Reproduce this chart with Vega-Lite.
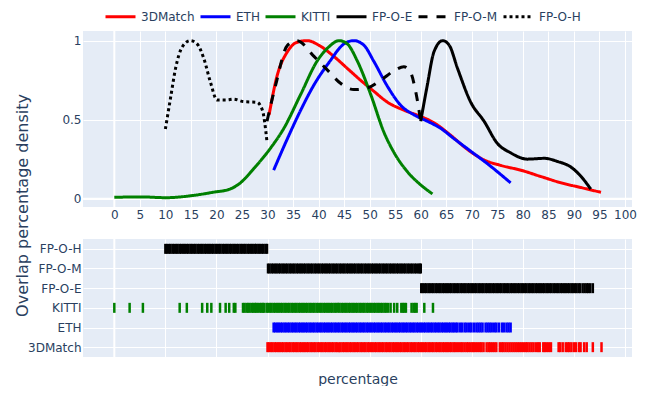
{
  "$schema": "https://vega.github.io/schema/vega-lite/v6.json",
  "padding": {"left": 14, "top": 0, "right": 0, "bottom": 0},
  "background": "white",
  "config": {
    "font": "DejaVu Sans",
    "view": {"stroke": null, "fill": "#E5ECF6"},
    "axis": {"gridColor": "white", "gridOpacity": 1, "gridWidth": 1, "domain": false, "ticks": false, "labelColor": "#2a3f5f", "labelFontSize": 12, "titleColor": "#2a3f5f", "titleFontSize": 14, "titleFontWeight": "normal", "labelFont": "DejaVu Sans", "titleFont": "DejaVu Sans"}
  },
  "bounds": "flush",
  "spacing": 32,
  "datasets": {
    "curves": [
      {"s": "3DMatch", "x": 30.3, "y": 0.53}, {"s": "3DMatch", "x": 31.9, "y": 0.78}, {"s": "3DMatch", "x": 33.9, "y": 0.93}, {"s": "3DMatch", "x": 35.8, "y": 0.99}, {"s": "3DMatch", "x": 37.8, "y": 1.0}, {"s": "3DMatch", "x": 40.1, "y": 0.97}, {"s": "3DMatch", "x": 43.0, "y": 0.9}, {"s": "3DMatch", "x": 45.6, "y": 0.825}, {"s": "3DMatch", "x": 48.2, "y": 0.75}, {"s": "3DMatch", "x": 50.8, "y": 0.68}, {"s": "3DMatch", "x": 53.5, "y": 0.61}, {"s": "3DMatch", "x": 56.7, "y": 0.56}, {"s": "3DMatch", "x": 60.0, "y": 0.52}, {"s": "3DMatch", "x": 62.6, "y": 0.48}, {"s": "3DMatch", "x": 65.9, "y": 0.4}, {"s": "3DMatch", "x": 69.2, "y": 0.31}, {"s": "3DMatch", "x": 72.4, "y": 0.245}, {"s": "3DMatch", "x": 75.7, "y": 0.21}, {"s": "3DMatch", "x": 79.6, "y": 0.18}, {"s": "3DMatch", "x": 83.5, "y": 0.14}, {"s": "3DMatch", "x": 87.5, "y": 0.1}, {"s": "3DMatch", "x": 91.4, "y": 0.07}, {"s": "3DMatch", "x": 95.3, "y": 0.04},
      {"s": "ETH", "x": 31.2, "y": 0.18}, {"s": "ETH", "x": 33.9, "y": 0.38}, {"s": "ETH", "x": 36.5, "y": 0.56}, {"s": "ETH", "x": 39.1, "y": 0.72}, {"s": "ETH", "x": 42.0, "y": 0.86}, {"s": "ETH", "x": 45.0, "y": 0.98}, {"s": "ETH", "x": 46.9, "y": 1.0}, {"s": "ETH", "x": 48.9, "y": 0.97}, {"s": "ETH", "x": 50.8, "y": 0.87}, {"s": "ETH", "x": 53.5, "y": 0.71}, {"s": "ETH", "x": 56.1, "y": 0.59}, {"s": "ETH", "x": 58.7, "y": 0.53}, {"s": "ETH", "x": 61.3, "y": 0.49}, {"s": "ETH", "x": 63.9, "y": 0.445}, {"s": "ETH", "x": 66.5, "y": 0.38}, {"s": "ETH", "x": 69.8, "y": 0.3}, {"s": "ETH", "x": 73.1, "y": 0.22}, {"s": "ETH", "x": 77.6, "y": 0.1},
      {"s": "KITTI", "x": 0, "y": 0.008}, {"s": "KITTI", "x": 5, "y": 0.011}, {"s": "KITTI", "x": 10.2, "y": 0.006}, {"s": "KITTI", "x": 15.4, "y": 0.02}, {"s": "KITTI", "x": 19.3, "y": 0.04}, {"s": "KITTI", "x": 22.6, "y": 0.06}, {"s": "KITTI", "x": 24.7, "y": 0.1}, {"s": "KITTI", "x": 27.3, "y": 0.19}, {"s": "KITTI", "x": 30.6, "y": 0.32}, {"s": "KITTI", "x": 33.2, "y": 0.445}, {"s": "KITTI", "x": 36.5, "y": 0.66}, {"s": "KITTI", "x": 39.7, "y": 0.87}, {"s": "KITTI", "x": 42.0, "y": 0.96}, {"s": "KITTI", "x": 44.0, "y": 1.0}, {"s": "KITTI", "x": 45.6, "y": 0.98}, {"s": "KITTI", "x": 47.6, "y": 0.87}, {"s": "KITTI", "x": 50.2, "y": 0.66}, {"s": "KITTI", "x": 52.8, "y": 0.42}, {"s": "KITTI", "x": 54.8, "y": 0.29}, {"s": "KITTI", "x": 57.4, "y": 0.17}, {"s": "KITTI", "x": 60.0, "y": 0.087}, {"s": "KITTI", "x": 62.3, "y": 0.03},
      {"s": "FP-O-E", "x": 60.0, "y": 0.49}, {"s": "FP-O-E", "x": 61.3, "y": 0.72}, {"s": "FP-O-E", "x": 62.6, "y": 0.93}, {"s": "FP-O-E", "x": 64.3, "y": 1.0}, {"s": "FP-O-E", "x": 65.6, "y": 0.97}, {"s": "FP-O-E", "x": 67.2, "y": 0.825}, {"s": "FP-O-E", "x": 69.8, "y": 0.61}, {"s": "FP-O-E", "x": 72.4, "y": 0.49}, {"s": "FP-O-E", "x": 75.0, "y": 0.35}, {"s": "FP-O-E", "x": 77.6, "y": 0.29}, {"s": "FP-O-E", "x": 80.9, "y": 0.25}, {"s": "FP-O-E", "x": 84.2, "y": 0.255}, {"s": "FP-O-E", "x": 86.8, "y": 0.235}, {"s": "FP-O-E", "x": 89.4, "y": 0.2}, {"s": "FP-O-E", "x": 91.4, "y": 0.14}, {"s": "FP-O-E", "x": 93.3, "y": 0.06},
      {"s": "FP-O-M", "x": 29.9, "y": 0.49}, {"s": "FP-O-M", "x": 31.6, "y": 0.72}, {"s": "FP-O-M", "x": 33.9, "y": 0.97}, {"s": "FP-O-M", "x": 35.8, "y": 1.0}, {"s": "FP-O-M", "x": 39.1, "y": 0.9}, {"s": "FP-O-M", "x": 41.7, "y": 0.815}, {"s": "FP-O-M", "x": 44.3, "y": 0.73}, {"s": "FP-O-M", "x": 46.9, "y": 0.69}, {"s": "FP-O-M", "x": 49.5, "y": 0.7}, {"s": "FP-O-M", "x": 52.2, "y": 0.75}, {"s": "FP-O-M", "x": 54.8, "y": 0.81}, {"s": "FP-O-M", "x": 56.7, "y": 0.835}, {"s": "FP-O-M", "x": 58.0, "y": 0.8}, {"s": "FP-O-M", "x": 59.0, "y": 0.68}, {"s": "FP-O-M", "x": 60.0, "y": 0.49},
      {"s": "FP-O-H", "x": 10.0, "y": 0.44}, {"s": "FP-O-H", "x": 11.0, "y": 0.635}, {"s": "FP-O-H", "x": 12.0, "y": 0.825}, {"s": "FP-O-H", "x": 13.3, "y": 0.96}, {"s": "FP-O-H", "x": 14.9, "y": 1.0}, {"s": "FP-O-H", "x": 16.2, "y": 0.98}, {"s": "FP-O-H", "x": 17.5, "y": 0.89}, {"s": "FP-O-H", "x": 18.8, "y": 0.74}, {"s": "FP-O-H", "x": 20.1, "y": 0.625}, {"s": "FP-O-H", "x": 22.0, "y": 0.625}, {"s": "FP-O-H", "x": 23.3, "y": 0.63}, {"s": "FP-O-H", "x": 25.3, "y": 0.614}, {"s": "FP-O-H", "x": 27.9, "y": 0.61}, {"s": "FP-O-H", "x": 29.0, "y": 0.56}, {"s": "FP-O-H", "x": 29.9, "y": 0.36}
    ],
    "rugH": [10, 10.3, 10.7, 11, 11.4, 11.7, 12.1, 12.4, 12.8, 13.1, 13.5, 13.8, 14.2, 14.5, 14.9, 15.2, 15.6, 15.9, 16.3, 16.6, 17, 17.3, 17.7, 18, 18.4, 18.7, 19.1, 19.4, 19.8, 20.1, 20.5, 20.8, 21.2, 21.5, 21.9, 22.2, 22.6, 22.9, 23.3, 23.6, 24, 24.3, 24.7, 25, 25.4, 25.7, 26.1, 26.4, 26.8, 27.1, 27.5, 27.8, 28.2, 28.5, 28.9, 29.2, 29.6, 29.9],
    "rugM": [30.1, 30.4, 30.8, 31.1, 31.5, 31.8, 32.2, 32.5, 32.9, 33.2, 33.6, 33.9, 34.3, 34.6, 35, 35.3, 35.7, 36, 36.4, 36.7, 37.1, 37.4, 37.8, 38.1, 38.5, 38.8, 39.2, 39.5, 39.9, 40.2, 40.6, 40.9, 41.3, 41.6, 42, 42.3, 42.7, 43, 43.4, 43.7, 44.1, 44.4, 44.8, 45.1, 45.5, 45.8, 46.2, 46.5, 46.9, 47.2, 47.6, 47.9, 48.3, 48.6, 49, 49.3, 49.7, 50, 50.4, 50.7, 51.1, 51.4, 51.8, 52.1, 52.5, 52.8, 53.2, 53.5, 53.9, 54.2, 54.6, 54.9, 55.3, 55.6, 56, 56.3, 56.7, 57, 57.4, 57.7, 58.1, 58.4, 58.8, 59.1, 59.5, 59.8, 60],
    "rugE": [60.1, 60.4, 60.8, 61.1, 61.5, 61.8, 62.2, 62.5, 62.9, 63.2, 63.6, 63.9, 64.3, 64.6, 65, 65.3, 65.7, 66, 66.4, 66.7, 67.1, 67.4, 67.8, 68.1, 68.5, 68.8, 69.2, 69.5, 69.9, 70.2, 70.6, 70.9, 71.3, 71.6, 72, 72.3, 72.7, 73, 73.4, 73.7, 74.1, 74.4, 74.8, 75.1, 75.5, 75.8, 76.2, 76.5, 76.9, 77.2, 77.6, 77.9, 78.3, 78.6, 79, 79.3, 79.7, 80, 80.4, 80.7, 81.1, 81.4, 81.8, 82.1, 82.5, 82.8, 83.2, 83.5, 83.9, 84.2, 84.6, 84.9, 85.3, 85.6, 86, 86.3, 86.7, 87, 87.4, 87.7, 88.1, 88.4, 88.8, 89.1, 89.5, 89.8, 90.2, 90.5, 90.9, 91.2, 91.7, 92.1, 92.5, 92.8, 93.2, 93.7],
    "rugK": [0, 3, 5.6, 12.8, 14.2, 17.2, 18.2, 19, 20.7, 21.8, 22.5, 23.4, 23.7, 25.2, 25.5, 25.9, 26.2, 26.5, 26.9, 27.2, 27.5, 27.8, 28.1, 28.5, 28.8, 29.1, 29.3, 29.8, 30.1, 30.5, 30.8, 31.2, 31.5, 31.9, 32.2, 32.6, 32.9, 33.3, 33.6, 34, 34.3, 34.7, 35, 35.4, 35.7, 36.1, 36.4, 36.8, 37.1, 37.5, 37.8, 38.2, 38.5, 38.9, 39.2, 39.6, 39.9, 40.3, 40.6, 41, 41.3, 41.7, 42, 42.4, 42.7, 43.1, 43.4, 43.8, 44.1, 44.5, 44.8, 45.2, 45.5, 45.9, 46.2, 46.6, 46.9, 47.3, 47.6, 48, 48.3, 48.7, 49, 49.4, 49.7, 50.1, 50.4, 50.8, 51.1, 51.5, 51.8, 52.2, 52.5, 52.9, 53.2, 53.6, 54.1, 54.8, 55.4, 56.2, 56.5, 56.8, 57.1, 58.2, 58.6, 58.9, 59.2, 60.7, 62.4],
    "rugEth": [31.2, 31.5, 31.9, 32.2, 32.6, 32.9, 33.3, 33.6, 34, 34.3, 34.7, 35, 35.4, 35.7, 36.1, 36.4, 36.8, 37.1, 37.5, 37.8, 38.2, 38.5, 38.9, 39.2, 39.6, 39.9, 40.3, 40.6, 41, 41.3, 41.7, 42, 42.4, 42.7, 43.1, 43.4, 43.8, 44.1, 44.5, 44.8, 45.2, 45.5, 45.9, 46.2, 46.6, 46.9, 47.3, 47.6, 48, 48.3, 48.7, 49, 49.4, 49.7, 50.1, 50.4, 50.8, 51.1, 51.5, 51.8, 52.2, 52.5, 52.9, 53.2, 53.6, 53.9, 54.3, 54.6, 55, 55.3, 55.7, 56, 56.4, 56.7, 57.1, 57.4, 57.8, 58.1, 58.5, 58.8, 59.2, 59.5, 59.9, 60.2, 60.6, 60.9, 61.3, 61.6, 62, 62.3, 62.7, 63, 63.4, 63.7, 64.1, 64.4, 64.8, 65.1, 65.5, 65.8, 66.2, 66.5, 66.9, 67.2, 67.7, 68.1, 68.6, 69, 69.5, 69.9, 70.4, 70.9, 71.3, 71.7, 72.1, 72.7, 73.1, 73.5, 73.9, 74.4, 74.8, 75.3, 75.9, 76.3, 76.8, 77.2, 77.6],
    "rug3D": [30, 30.3, 30.7, 31, 31.4, 31.7, 32.1, 32.4, 32.8, 33.1, 33.5, 33.8, 34.2, 34.5, 34.9, 35.2, 35.6, 35.9, 36.3, 36.6, 37, 37.3, 37.7, 38, 38.4, 38.7, 39.1, 39.4, 39.8, 40.1, 40.5, 40.8, 41.2, 41.5, 41.9, 42.2, 42.6, 42.9, 43.3, 43.6, 44, 44.3, 44.7, 45, 45.4, 45.7, 46.1, 46.4, 46.8, 47.1, 47.5, 47.8, 48.2, 48.5, 48.9, 49.2, 49.6, 49.9, 50.3, 50.6, 51, 51.3, 51.7, 52, 52.4, 52.7, 53.1, 53.4, 53.8, 54.1, 54.5, 54.8, 55.2, 55.5, 55.9, 56.2, 56.6, 56.9, 57.3, 57.6, 58, 58.3, 58.7, 59, 59.4, 59.7, 60.1, 60.4, 60.8, 61.1, 61.5, 61.8, 62.2, 62.5, 62.9, 63.2, 63.6, 63.9, 64.3, 64.6, 65, 65.3, 65.7, 66, 66.4, 66.7, 67.1, 67.5, 67.9, 68.2, 68.6, 69, 69.3, 69.7, 70.1, 70.4, 70.8, 71.2, 71.6, 71.9, 72.3, 72.9, 73.3, 73.6, 74, 74.4, 74.8, 75.5, 75.9, 76.2, 76.6, 77, 77.4, 77.8, 78.2, 78.6, 79, 79.4, 79.8, 80.2, 80.6, 80.9, 81.3, 81.7, 82.1, 82.6, 83, 83.3, 84, 84.3, 84.7, 85.1, 85.5, 87, 87.3, 87.8, 88.4, 88.8, 89.1, 89.5, 90, 90.4, 91, 91.3, 92, 92.5, 93.7, 95.4]
  },
  "vconcat": [
    {
      "width": 549,
      "height": 176,
      "layer": [
        {
          "data": {"values": [{}]},
          "mark": {"type": "rule", "color": "white", "strokeWidth": 2},
          "encoding": {"y": {"datum": 0, "type": "quantitative", "scale": {"domain": [-0.053, 1.061], "nice": false, "zero": false},
            "axis": {"values": [0, 0.5, 1], "format": "~g", "title": "Overlap percentage density", "labelPadding": 2, "grid": true, "titleX": -61, "titleY": 174, "titleAngle": -90, "titleAlign": "center", "titleBaseline": "middle", "titleFontSize": 16}}}
        },
        {
          "data": {"values": [{}]},
          "mark": {"type": "rule", "color": "white", "strokeWidth": 2},
          "encoding": {"x": {"datum": 0, "type": "quantitative", "scale": {"domain": [-6.13, 101.37], "nice": false, "zero": false},
            "axis": {"values": [0, 5, 10, 15, 20, 25, 30, 35, 40, 45, 50, 55, 60, 65, 70, 75, 80, 85, 90, 95, 100], "title": null, "labelPadding": 2, "grid": true, "labelOverlap": false, "labelFlush": false}}}
        },
        {
          "data": {"name": "curves"},
          "mark": {"type": "line", "strokeWidth": 3, "interpolate": "monotone"},
          "encoding": {
            "x": {"field": "x", "type": "quantitative", "scale": {"domain": [-6.13, 101.37], "nice": false, "zero": false},
              "axis": {"values": [0, 5, 10, 15, 20, 25, 30, 35, 40, 45, 50, 55, 60, 65, 70, 75, 80, 85, 90, 95, 100], "title": null, "labelPadding": 2, "grid": true, "labelOverlap": false, "labelFlush": false}},
            "y": {"field": "y", "type": "quantitative", "scale": {"domain": [-0.053, 1.061], "nice": false, "zero": false},
              "axis": {"values": [0, 0.5, 1], "format": "~g", "title": "Overlap percentage density", "labelPadding": 2, "grid": true, "titleX": -61, "titleY": 174, "titleAngle": -90, "titleAlign": "center", "titleBaseline": "middle", "titleFontSize": 16}},
            "color": {"field": "s", "type": "nominal",
              "scale": {"domain": ["3DMatch", "ETH", "KITTI", "FP-O-E", "FP-O-M", "FP-O-H"], "range": ["red", "blue", "green", "black", "black", "black"]},
              "legend": {"title": null, "orient": "none", "direction": "horizontal", "legendX": 21, "legendY": -31, "symbolType": "stroke", "symbolSize": 900, "symbolStrokeWidth": 3, "labelFontSize": 12, "labelColor": "#2a3f5f", "labelFont": "DejaVu Sans", "columnPadding": -1, "labelOffset": 4, "padding": 0}},
            "strokeDash": {"field": "s", "type": "nominal",
              "scale": {"domain": ["3DMatch", "ETH", "KITTI", "FP-O-E", "FP-O-M", "FP-O-H"], "range": [[1, 0], [1, 0], [1, 0], [1, 0], [9, 9], [3, 3]]},
              "legend": {"title": null, "orient": "none", "direction": "horizontal", "legendX": 21, "legendY": -31, "symbolType": "stroke", "symbolSize": 900, "symbolStrokeWidth": 3, "labelFontSize": 12, "labelColor": "#2a3f5f", "labelFont": "DejaVu Sans", "columnPadding": -1, "labelOffset": 4, "padding": 0}}
          }
        }
      ]
    },
    {
      "width": 549,
      "height": 118,
      "layer": [
        {
          "data": {"values": [{}]},
          "mark": {"type": "rule", "color": "white", "strokeWidth": 2},
          "encoding": {"x": {"datum": 0, "type": "quantitative", "scale": {"domain": [-6.13, 101.37], "nice": false, "zero": false},
            "axis": {"values": [0, 5, 10, 15, 20, 25, 30, 35, 40, 45, 50, 55, 60, 65, 70, 75, 80, 85, 90, 95, 100], "labels": false, "grid": true, "title": "percentage", "titlePadding": 15}}}
        },
        {
          "data": {"name": "rugH"},
          "mark": {"type": "tick", "color": "black", "thickness": 2.5, "size": 10, "opacity": 1},
          "encoding": {
            "x": {"field": "data", "type": "quantitative", "scale": {"domain": [-6.13, 101.37], "nice": false, "zero": false},
              "axis": {"values": [0, 5, 10, 15, 20, 25, 30, 35, 40, 45, 50, 55, 60, 65, 70, 75, 80, 85, 90, 95, 100], "labels": false, "grid": true, "title": "percentage", "titlePadding": 15}},
            "y": {"datum": "FP-O-H", "type": "nominal",
              "scale": {"type": "point", "domain": ["FP-O-H", "FP-O-M", "FP-O-E", "KITTI", "ETH", "3DMatch"], "padding": 0.5},
              "axis": {"title": null, "grid": true, "labelPadding": 2}}}
        },
        {
          "data": {"name": "rugM"},
          "mark": {"type": "tick", "color": "black", "thickness": 2.5, "size": 10, "opacity": 1},
          "encoding": {"x": {"field": "data", "type": "quantitative"}, "y": {"datum": "FP-O-M", "type": "nominal"}}
        },
        {
          "data": {"name": "rugE"},
          "mark": {"type": "tick", "color": "black", "thickness": 2.5, "size": 10, "opacity": 1},
          "encoding": {"x": {"field": "data", "type": "quantitative"}, "y": {"datum": "FP-O-E", "type": "nominal"}}
        },
        {
          "data": {"name": "rugK"},
          "mark": {"type": "tick", "color": "green", "thickness": 2.5, "size": 10, "opacity": 1},
          "encoding": {"x": {"field": "data", "type": "quantitative"}, "y": {"datum": "KITTI", "type": "nominal"}}
        },
        {
          "data": {"name": "rugEth"},
          "mark": {"type": "tick", "color": "blue", "thickness": 2.5, "size": 10, "opacity": 1},
          "encoding": {"x": {"field": "data", "type": "quantitative"}, "y": {"datum": "ETH", "type": "nominal"}}
        },
        {
          "data": {"name": "rug3D"},
          "mark": {"type": "tick", "color": "red", "thickness": 2.5, "size": 10, "opacity": 1},
          "encoding": {"x": {"field": "data", "type": "quantitative"}, "y": {"datum": "3DMatch", "type": "nominal"}}
        }
      ]
    }
  ]
}
